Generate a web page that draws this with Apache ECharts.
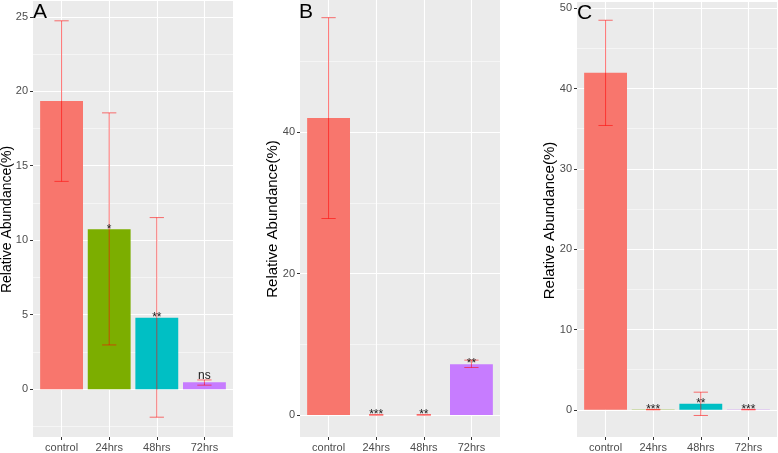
<!DOCTYPE html>
<html><head><meta charset="utf-8">
<script src="https://cdn.jsdelivr.net/npm/echarts@6/dist/echarts.min.js"></script>
<style>html,body{margin:0;padding:0;background:#fff}#c{width:778px;height:453px}</style>
</head><body><div id="c"></div><script>
// ---- data ----
const categories = ['control', '24hrs', '48hrs', '72hrs'];
const barColors = ['#F8766D', '#7CAE00', '#00BFC4', '#C77CFF'];
const panelLetters = ['A', 'B', 'C'];
const yTitle = 'Relative Abundance(%)';

const meansA = [19.34, 10.74, 4.80, 0.47];
const lowA   = [13.95, 2.97, -1.88, 0.27];
const highA  = [24.73, 18.55, 11.52, 0.62];
const sigA   = ['', '*', '**', 'ns'];

const meansB = [42.0, 0.02, 0.02, 7.20];
const lowB   = [27.8, 0.0, 0.0, 6.73];
const highB  = [56.2, 0.05, 0.05, 7.77];
const sigB   = ['', '***', '**', '**'];

const meansC = [41.97, 0.03, 0.75, 0.03];
const lowC   = [35.4, 0.0, -0.70, 0.0];
const highC  = [48.5, 0.06, 2.20, 0.06];
const sigC   = ['', '***', '**', '***'];

const yTicksA = [0, 5, 10, 15, 20, 25];
const yMinorA = [-2.5, 2.5, 7.5, 12.5, 17.5, 22.5];
const yTicksB = [0, 20, 40];
const yMinorB = [10, 30, 50];
const yTicksC = [0, 10, 20, 30, 40, 50];
const yMinorC = [5, 15, 25, 35, 45];

// ---- layout ----
const panels = [
  {means: meansA, low: lowA, high: highA, sig: sigA, ticks: yTicksA, minor: yMinorA,
   grid: {left: 33, top: 1, width: 200, height: 437}, yMin: -3.21, yMax: 26.06,
   titleX: 7, titleSize: 14, letterX: 33, letterY: 12},
  {means: meansB, low: lowB, high: highB, sig: sigB, ticks: yTicksB, minor: yMinorB,
   grid: {left: 300, top: 0, width: 200, height: 438}, yMin: -3.1, yMax: 58.7,
   titleX: 273, titleSize: 15, letterX: 299, letterY: 12},
  {means: meansC, low: lowC, high: highC, sig: sigC, ticks: yTicksC, minor: yMinorC,
   grid: {left: 577, top: 2, width: 200, height: 437}, yMin: -3.38, yMax: 50.77,
   titleX: 550, titleSize: 15, letterX: 577, letterY: 13}
];
const xIdx = categories.map((c, i) => i);

const grid = [], xAxis = [], yAxis = [], series = [], graphic = [];
panels.forEach((p, k) => {
  grid.push(Object.assign({show: true, backgroundColor: '#EBEBEB', borderWidth: 0}, p.grid));
  xAxis.push({
    type: 'value', gridIndex: k, min: -0.6, max: 3.6, position: 'bottom',
    axisLine: {show: false, onZero: false},
    axisTick: {show: true, length: 3, lineStyle: {color: '#333333'}, customValues: xIdx},
    axisLabel: {show: true, customValues: xIdx, formatter: v => categories[Math.round(v)] || '',
      color: '#4D4D4D', fontSize: 11, margin: 5, fontFamily: 'Liberation Sans'},
    splitLine: {show: true, lineStyle: {color: '#FFFFFF', width: 1.1}}
  });
  yAxis.push({
    type: 'value', gridIndex: k, min: p.yMin, max: p.yMax, position: 'left',
    axisLine: {show: false, onZero: false},
    axisTick: {show: true, length: 3, lineStyle: {color: '#333333'}, customValues: p.ticks},
    axisLabel: {show: true, customValues: p.ticks, color: '#4D4D4D', fontSize: 11, margin: 5,
      fontFamily: 'Liberation Sans'},
    splitLine: {show: true, lineStyle: {color: '#FFFFFF', width: 1.1}}
  });
  yAxis.push({
    type: 'value', gridIndex: k, min: p.yMin, max: p.yMax, position: 'left',
    axisLine: {show: false, onZero: false},
    axisTick: {show: false, customValues: p.minor},
    axisLabel: {show: false, customValues: p.minor},
    splitLine: {show: true, lineStyle: {color: '#FFFFFF', width: 0.5}}
  });
  const yi = k * 2;
  const barData = p.means.map((m, i) => [i, m]);
  series.push({
    type: 'custom', xAxisIndex: k, yAxisIndex: yi, data: barData, z: 2,
    renderItem: (params, api) => {
      const i = api.value(0), v = api.value(1);
      const a = api.coord([i - 0.45, v]), b = api.coord([i + 0.45, 0]);
      return {type: 'rect', shape: {x: a[0], y: Math.min(a[1], b[1]), width: b[0] - a[0],
        height: Math.abs(b[1] - a[1])}, style: {fill: barColors[i]}};
    }
  });
  const errData = p.means.map((m, i) => [i, p.low[i], p.high[i]]);
  series.push({
    type: 'custom', xAxisIndex: k, yAxisIndex: yi, data: errData, z: 3,
    renderItem: (params, api) => {
      const i = api.value(0), lo = api.value(1), hi = api.value(2);
      const t = api.coord([i, hi]), bt = api.coord([i, lo]);
      const l1 = api.coord([i - 0.15, hi]), r1 = api.coord([i + 0.15, hi]);
      const l2 = api.coord([i - 0.15, lo]), r2 = api.coord([i + 0.15, lo]);
      const st = {stroke: 'rgba(255,0,0,0.55)', lineWidth: 1};
      return {type: 'group', children: [
        {type: 'line', shape: {x1: t[0], y1: t[1], x2: bt[0], y2: bt[1]}, style: st},
        {type: 'line', shape: {x1: l1[0], y1: l1[1], x2: r1[0], y2: r1[1]}, style: st},
        {type: 'line', shape: {x1: l2[0], y1: l2[1], x2: r2[0], y2: r2[1]}, style: st}
      ]};
    }
  });
  const sigData = p.means.map((m, i) => [i, m]);
  series.push({
    type: 'custom', xAxisIndex: k, yAxisIndex: yi, data: sigData, z: 4,
    renderItem: (params, api) => {
      const i = api.value(0), v = api.value(1);
      const s = p.sig[i];
      if (!s) return null;
      const c = api.coord([i, v]);
      const star = s.indexOf('*') >= 0;
      return {type: 'text', x: c[0], y: c[1], style: {text: s, fill: '#1a1a1a',
        font: '12px "Liberation Sans"', align: 'center', verticalAlign: star ? 'middle' : 'bottom'}};
    }
  });
  graphic.push({type: 'text', x: p.titleX, y: p.grid.top + p.grid.height / 2, rotation: Math.PI / 2,
    style: {text: yTitle, fill: '#000', font: p.titleSize + 'px "Liberation Sans"', align: 'center', verticalAlign: 'middle'}});
  graphic.push({type: 'text', x: p.letterX, y: p.letterY,
    style: {text: panelLetters[k], fill: '#000', font: '21px "Liberation Sans"', align: 'left', verticalAlign: 'middle'}, z: 10});
});

const chart = echarts.init(document.getElementById('c'), null, {renderer: 'canvas'});
chart.setOption({animation: false, backgroundColor: '#fff', grid, xAxis, yAxis, series, graphic});
</script></body></html>
